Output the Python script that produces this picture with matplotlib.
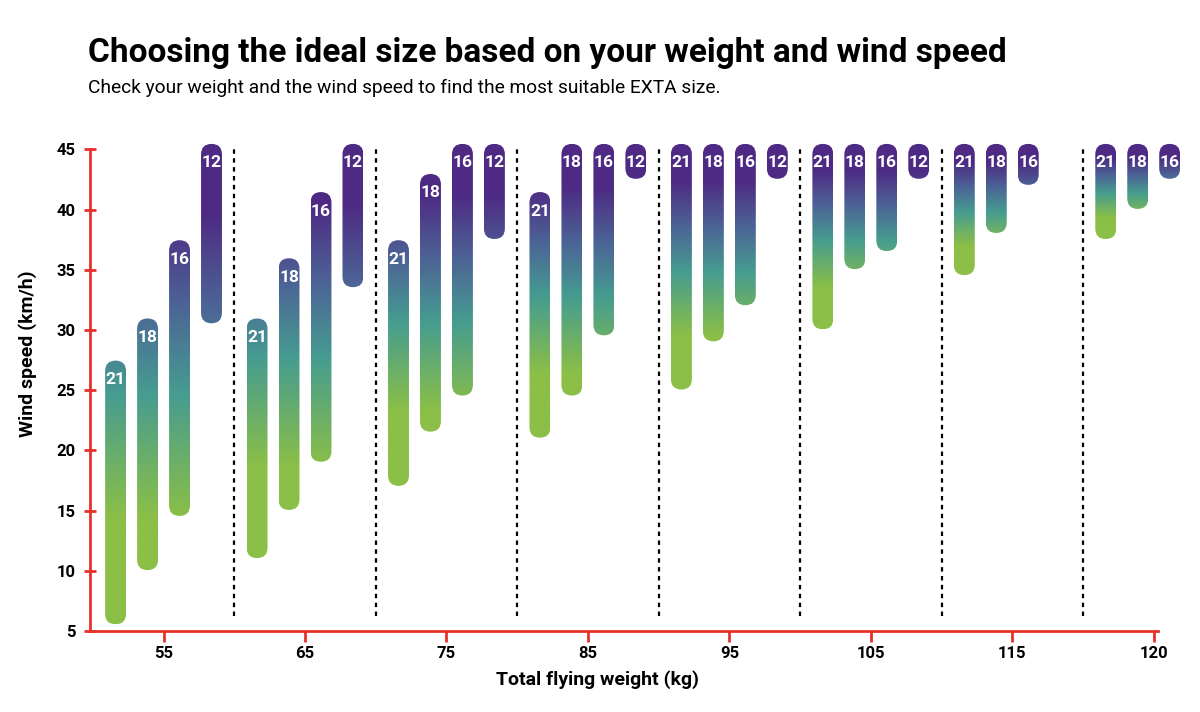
import numpy as np
import matplotlib
matplotlib.use('Agg')
import matplotlib.pyplot as plt
from matplotlib.patches import FancyBboxPatch
from matplotlib.colors import LinearSegmentedColormap

plt.rcParams['font.family'] = ['Roboto', 'DejaVu Sans']

# weights (kg) and kite sizes
weights = ['55', '65', '75', '85', '95', '105', '115', '120']
sizes = ['21', '18', '16', '12']

# wind range (km/h) per size, one value per weight group (None = no bar)
low_21 = [6, 11.5, 17.5, 21.5, 25.5, 30.5, 35, 38]
high_21 = [27, 30.5, 37, 41, 45, 45, 45, 45]
low_18 = [10.5, 15.5, 22, 25, 29.5, 35.5, 38.5, 40.5]
high_18 = [30.5, 35.5, 42.5, 45, 45, 45, 45, 45]
low_16 = [15, 19.5, 25, 30, 32.5, 37, 42.5, 43]
high_16 = [37, 41, 45, 45, 45, 45, 45, 45]
low_12 = [31, 34, 38, 43, 43, 43, None, None]
high_12 = [45, 45, 45, 45, 45, 45, None, None]

lows = [low_21, low_18, low_16, low_12]
highs = [high_21, high_18, high_16, high_12]

red = '#E8312A'
cmap = LinearSegmentedColormap.from_list('exta', [
    (0.0, '#8BBF47'), (0.22, '#8BBF47'), (0.48, '#469C90'),
    (0.66, '#4C6596'), (0.85, '#4E2B84'), (1.0, '#4E2A84')])

fig = plt.figure(figsize=(12, 7.12), dpi=100)
ax = fig.add_axes([0.075, 0.1139, 0.91, 0.6933])
xlim = (-0.52, 7.2)
ylim = (5, 46)
ax.set_xlim(xlim)
ax.set_ylim(ylim)

# pixels per data unit, used to get round caps
p0 = ax.transData.transform((0, 0))
p1 = ax.transData.transform((1, 1))
px_x = p1[0] - p0[0]
px_y = p1[1] - p0[1]

step = 0.226
bw = 0.148
pad = 0.45
grad = np.linspace(0, 1, 256).reshape(-1, 1)

for g in range(len(weights)):
    vals = [(k, lows[k][g], highs[k][g]) for k in range(4) if lows[k][g] is not None]
    gbot = min(v[1] for v in vals) - pad
    gtop = max(v[2] for v in vals) + pad
    for k, lo, hi in vals:
        x = g + (k - 1.5) * step
        patch = FancyBboxPatch((x - bw / 2, lo - pad), bw, hi - lo + 2 * pad,
                               boxstyle='round,pad=0,rounding_size=%f' % (bw / 2),
                               mutation_aspect=px_x / px_y,
                               facecolor='none', edgecolor='none')
        ax.add_patch(patch)
        im = ax.imshow(grad, cmap=cmap, extent=[x - bw / 2, x + bw / 2, gbot, gtop],
                       origin='lower', aspect='auto', interpolation='bilinear', zorder=2)
        im.set_clip_path(patch)
        ax.text(x, hi + pad - 19 / px_y, sizes[k], color='white', fontsize=12.5,
                fontweight='bold', ha='center', va='center', zorder=3)
    if g < len(weights) - 1:
        ax.vlines(g + 0.5, 6.2, 45, colors='black', linestyles=(0, (2, 2)), linewidth=1.6)

ax.set_xlim(xlim)
ax.set_ylim(ylim)

for s in ['top', 'right']:
    ax.spines[s].set_visible(False)
ax.spines['left'].set_color(red)
ax.spines['bottom'].set_color(red)
ax.spines['left'].set_linewidth(2)
ax.spines['bottom'].set_linewidth(2)
ax.spines['left'].set_bounds(5, 45)
ax.spines['bottom'].set_bounds(-0.52, 7.03)

ax.set_yticks(range(5, 46, 5))
ax.set_xticks(range(len(weights)))
ax.set_xticklabels(weights)
ax.tick_params(axis='y', direction='inout', length=9, width=2, color=red, pad=6)
ax.tick_params(axis='x', direction='out', length=8, width=2, color=red, pad=3)
for lab in ax.get_xticklabels() + ax.get_yticklabels():
    lab.set_fontweight('bold')
    lab.set_fontsize(12)

fig.text(597 / 1200, 1 - 680 / 712, 'Total flying weight (kg)', ha='center', va='center',
         fontsize=14, fontweight='bold')
fig.text(28 / 1200, 1 - 354 / 712, 'Wind speed (km/h)', ha='center', va='center',
         rotation=90, fontsize=14, fontweight='bold')

fig.text(88 / 1200, 1 - 62 / 712, 'Choosing the ideal size based on your weight and wind speed',
         ha='left', va='baseline', fontsize=24, fontweight='bold')
fig.text(88 / 1200, 1 - 93 / 712,
         'Check your weight and the wind speed to find the most suitable EXTA size.',
         ha='left', va='baseline', fontsize=13.8)

fig.savefig('out.png', dpi=100)
